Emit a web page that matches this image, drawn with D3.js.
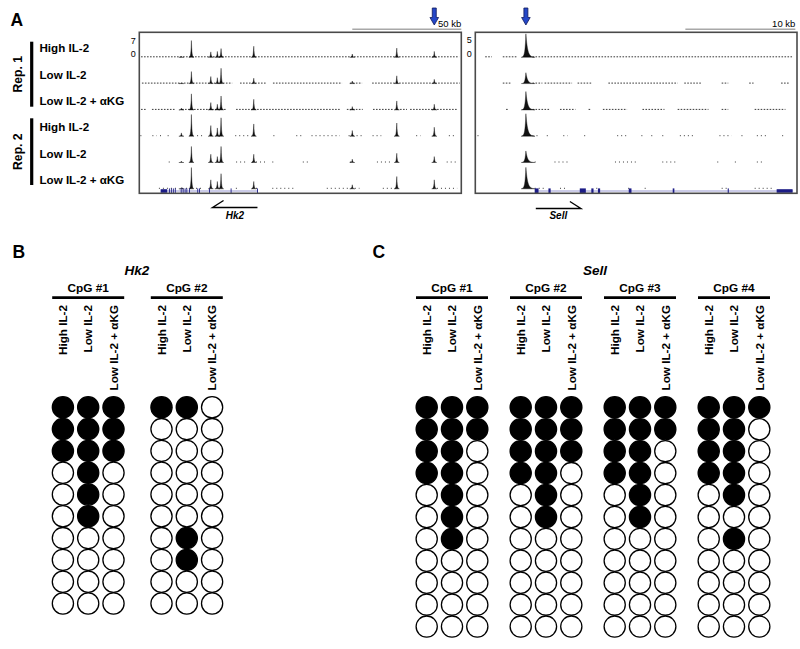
<!DOCTYPE html>
<html><head><meta charset="utf-8">
<script src="https://cdn.jsdelivr.net/npm/d3@7"></script>
<style>body{margin:0;background:#fff}svg{display:block}text{font-family:"Liberation Sans",Arial,sans-serif}</style>
</head><body><svg id="c" width="800" height="649"></svg>
<script>
// ---------------- DATA ----------------
const conditions = ["High IL-2", "Low IL-2", "Low IL-2 + αKG"];
const replicates = ["Rep. 1", "Rep. 2"];
const tracks = ["r1_high", "r1_low", "r1_akg", "r2_high", "r2_low", "r2_akg"];

// Hk2 locus (kb from left edge of window), peak positions and heights per track
const hk2Window = [0, 147.7];
const hk2Max = 7;
const hk2PeakPos = [19.3, 23.9, 32.8, 35.8, 37.5, 52.5, 97.7, 118.1, 135.3];
const hk2Peaks = [
  [0.4, 7.1, 2.3, 2.5, 3.7, 4.7, 1.4, 3.9, 2.5],
  [0.3, 5.1, 3.0, 2.5, 6.5, 2.3, 1.1, 3.3, 1.8],
  [0.8, 6.8, 3.1, 2.4, 5.9, 4.5, 1.4, 3.8, 2.4],
  [1.4, 9.2, 4.5, 3.5, 7.8, 5.2, 2.4, 5.6, 3.8],
  [0.6, 6.8, 3.5, 2.5, 6.8, 3.5, 1.4, 3.9, 2.5],
  [0.5, 9.0, 3.8, 3.1, 6.4, 3.1, 1.7, 5.2, 3.8]
];
const hk2Background = [
  [[0.8, 146.7]],
  [[1.2, 42.6], [46.2, 58.1], [61.3, 93], [96.6, 102.2], [106.8, 147]],
  [[0.8, 3.1], [5.8, 16.8], [19.6, 39.8], [44.4, 92], [95.2, 102.5], [107.2, 116.4], [119.6, 122.8], [124.2, 145.8]],
  [[0.5, 1.5], [6, 8], [9.5, 10.5], [13, 14], [26.5, 29], [44, 51], [61.5, 62.5], [72, 75.5], [79, 92], [96, 102], [107, 111], [127, 129], [135, 136], [142, 145.5]],
  [[13.5, 14.2], [44.4, 49], [51.7, 58.1], [61, 61.5], [75, 78.3], [96.6, 98], [109, 115], [141, 146]],
  [[9, 16.8], [19.6, 23.7], [26, 28.8], [44.3, 44.9], [51.7, 54.9], [61, 72], [86, 101], [111.7, 118], [134.7, 145.8]]
];
const hk2GeneSpan = [9.8, 54.3];
const hk2UTR = [[9.8, 12.8]];
const hk2Exons = [[13.6, 13.9], [14.5, 14.8], [15.4, 15.7], [16.3, 16.6], [19.0, 19.3], [19.9, 20.2], [20.8, 21.1], [21.6, 21.9], [22.8, 23.1], [26.6, 26.9], [27.4, 27.7], [32, 32.3], [41.9, 42.2], [54.0, 54.3]];
const hk2Arrow = [54.2, 33.6];     // transcription direction: right-to-left
const hk2Target = 135.3;           // blue arrow
const hk2ScaleBar = [97.7, 147.7]; // 50 kb

// Sell locus
const sellWindow = [0, 29.25];
const sellMax = 5;
const sellPeakPos = [4.6];
const sellPeaks = [[6.9], [3.2], [5.4], [6.6], [3.4], [6.3]];
const sellBackground = [
  [[0.9, 1.5], [2.5, 3.8], [5.2, 28.8]],
  [[2.5, 3.2], [5.2, 6.1], [6.3, 8.8], [9.3, 10.6], [12.1, 18.4], [19, 20.6], [22.4, 23], [24.9, 25.3], [27.8, 28.5]],
  [[2.8, 2.95], [5.2, 6.8], [7.7, 9.1], [10.3, 10.45], [11.6, 13.8], [15.2, 17.2], [18.4, 21.2], [22.4, 23], [25.4, 28.2]],
  [[0.2, 0.35], [5.2, 5.7], [6.5, 6.7], [8, 8.4], [9.9, 10.1], [12.9, 13.8], [15.1, 15.3], [16, 16.3], [17, 17.3], [18.6, 20], [22.2, 23.3], [24.2, 24.4], [25.6, 26.6], [27.9, 28.1]],
  [[5.4, 5.6], [7.2, 8.6], [12.7, 14.3], [14.5, 14.6], [17, 18.4], [22, 22.2], [23.6, 23.8], [25.6, 26.1]],
  [[5.4, 6.3], [7.7, 8.2], [11, 11.3], [13.9, 14.1], [15.4, 15.6], [22.4, 23], [25.4, 27.2]]
];
const sellGeneSpan = [5.45, 28.9];
const sellUTR = [[27.4, 28.85]];
const sellExons = [[5.4, 5.75], [6.65, 6.85], [9.5, 10.05], [10.55, 10.75], [11.15, 11.35], [13.95, 14.2], [17.95, 18.1], [22.95, 23.05]];
const sellArrow = [5.5, 9.6];      // left-to-right
const sellTarget = 4.6;
const sellScaleBar = [19.1, 29.1]; // 10 kb

// Bisulfite methylation (1 = methylated clone)
const hk2CpGs = ["CpG #1", "CpG #2"];
const hk2Meth = [
  [[1,1,1,0,0,0,0,0,0,0], [1,1,1,1,1,1,0,0,0,0], [1,1,1,0,0,0,0,0,0,0]],
  [[1,0,0,0,0,0,0,0,0,0], [1,0,0,0,0,0,1,1,0,0], [0,0,0,0,0,0,0,0,0,0]]
];
const sellCpGs = ["CpG #1", "CpG #2", "CpG #3", "CpG #4"];
const sellMeth = [
  [[1,1,1,1,0,0,0,0,0,0,0], [1,1,1,1,1,1,1,0,0,0,0], [1,1,0,0,0,0,0,0,0,0,0]],
  [[1,1,1,1,0,0,0,0,0,0,0], [1,1,1,1,1,1,0,0,0,0,0], [1,1,1,0,0,0,0,0,0,0,0]],
  [[1,1,1,1,0,0,0,0,0,0,0], [1,1,1,1,1,1,0,0,0,0,0], [1,1,0,0,0,0,0,0,0,0,0]],
  [[1,1,1,1,0,0,0,0,0,0,0], [1,1,1,1,1,0,1,0,0,0,0], [1,0,0,0,0,0,0,0,0,0,0]]
];

// ---------------- DRAW ----------------
const svg = d3.select("#c");

function panelLetter(t, x, y) {
  svg.append("text").attr("x", x).attr("y", y).text(t)
    .attr("font-size", 17.5).attr("font-weight", "bold");
}
panelLetter("A", 10.5, 25.5);
panelLetter("B", 12.5, 257.5);
panelLetter("C", 372.5, 257.5);

// track baselines
const yTrack = d3.scalePoint().domain(tracks).range([57.3, 188.8]);

// row labels
svg.selectAll("text.rowlab").data(tracks).join("text").attr("class", "rowlab")
  .attr("x", 39.5).attr("y", d => yTrack(d) - 9).attr("dy", "0.35em")
  .attr("font-size", 11.6).attr("font-weight", "bold")
  .text((d, i) => conditions[i % 3]);

// replicate bars
replicates.forEach((r, i) => {
  const y0 = i === 0 ? 41.7 : 118.3, y1 = i === 0 ? 106.7 : 185;
  svg.append("line").attr("x1", 31.7).attr("x2", 31.7).attr("y1", y0).attr("y2", y1)
    .attr("stroke", "#000").attr("stroke-width", 3.2);
  svg.append("text").attr("transform", `translate(22,${(y0 + y1) / 2}) rotate(-90)`)
    .attr("text-anchor", "middle").attr("font-size", 12.2).attr("font-weight", "bold").text(r);
});

function browser(cfg) {
  const x = d3.scaleLinear().domain(cfg.window).range([cfg.x0, cfg.x1]);
  const h = d3.scaleLinear().domain([0, cfg.max]).range([0, cfg.pxMax]);
  const g = svg.append("g");

  // background dotted signal
  cfg.bg.forEach((segs, ti) => {
    const yb = yTrack(tracks[ti]) - 0.5;
    g.selectAll(null).data(segs).join("line")
      .attr("x1", d => x(d[0])).attr("x2", d => x(d[1]))
      .attr("y1", yb).attr("y2", yb)
      .attr("stroke", "#3a3a3a").attr("stroke-width", 1)
      .attr("stroke-dasharray", ti < 3 ? "1.6,1.4" : "1,3");
  });

  // peaks
  const area = d3.area().x(d => d.x).y0(d => d.b).y1(d => d.b - d.v);
  cfg.peaks.forEach((vals, ti) => {
    const b = yTrack(tracks[ti]);
    vals.forEach((v, pi) => {
      const cx = x(cfg.pos[pi]);
      const pts = d3.range(-cfg.wl, cfg.wr + 0.01, 0.25).map(dx => ({
        x: cx + dx, b: b,
        v: h(v) * Math.exp(-Math.abs(dx) / (dx < 0 ? cfg.kl : cfg.kr))
      }));
      g.append("path").attr("d", area(pts)).attr("fill", "#111")
        .attr("stroke", "#111").attr("stroke-width", 0.4);
    });
  });

  // gene model
  const gy = 191;
  g.append("line").attr("x1", x(cfg.span[0])).attr("x2", x(cfg.span[1]))
    .attr("y1", gy).attr("y2", gy).attr("stroke", "#9a9ad2").attr("stroke-width", 1.1);
  g.selectAll(null).data(cfg.utr).join("rect")
    .attr("x", d => x(d[0])).attr("width", d => Math.max(0.8, x(d[1]) - x(d[0])))
    .attr("y", gy - 1.8).attr("height", 3.6).attr("fill", "#1c1c86");
  g.selectAll(null).data(cfg.exons).join("rect")
    .attr("x", d => x(d[0])).attr("width", d => Math.max(0.9, x(d[1]) - x(d[0])))
    .attr("y", gy - 2.6).attr("height", 5.2).attr("fill", "#1c1c86");

  // box
  g.append("rect").attr("x", cfg.x0).attr("y", 32.3).attr("width", cfg.x1 - cfg.x0).attr("height", 161)
    .attr("fill", "none").attr("stroke", "#4a4a4a").attr("stroke-width", 1.6);

  // y labels
  const y0 = yTrack(tracks[0]);
  g.append("text").attr("x", cfg.x0 - 3.5).attr("y", y0 - h(cfg.max)).attr("dy", "0.35em")
    .attr("text-anchor", "end").attr("font-size", 9).text(cfg.max);
  g.append("text").attr("x", cfg.x0 - 3.5).attr("y", y0 - 3).attr("dy", "0.35em")
    .attr("text-anchor", "end").attr("font-size", 9).text(0);

  // scale bar
  g.append("line").attr("x1", x(cfg.bar[0])).attr("x2", x(cfg.bar[1])).attr("y1", 29.3).attr("y2", 29.3)
    .attr("stroke", "#a8a8a8").attr("stroke-width", 1.6);
  g.append("text").attr("x", x(cfg.bar[1])).attr("y", 26.5).attr("text-anchor", "end")
    .attr("font-size", 9.5).text(cfg.barLabel);

  // blue arrow
  const ax = x(cfg.target);
  const arrow = `M${ax - 2},8 L${ax + 2},8 L${ax + 2},17.5 L${ax + 4.3},17.5 L${ax},25 L${ax - 4.3},17.5 L${ax - 2},17.5 Z`;
  g.append("path").attr("d", arrow).attr("fill", "#2447c8").attr("stroke", "#101a5a").attr("stroke-width", 0.8);

  // gene direction arrow + name
  const a0 = x(cfg.arrow[0]), a1 = x(cfg.arrow[1]);
  const dir = Math.sign(a1 - a0);
  g.append("path").attr("d", `M${a0},${cfg.ay} L${a1},${cfg.ay} L${a1 - dir * 11},${cfg.ay - 7}`)
    .attr("fill", "none").attr("stroke", "#000").attr("stroke-width", 1.4);
  g.append("text").attr("x", (a0 + a1) / 2).attr("y", 218.5).attr("text-anchor", "middle")
    .attr("font-size", 10).attr("font-weight", "bold").attr("font-style", "italic").text(cfg.name);
}

browser({ window: hk2Window, x0: 139.3, x1: 461.3, max: hk2Max, pxMax: 16.5,
  pos: hk2PeakPos, peaks: hk2Peaks, bg: hk2Background, kl: 0.5, kr: 0.5, wl: 2.5, wr: 2.5,
  span: hk2GeneSpan, utr: hk2UTR, exons: hk2Exons, arrow: hk2Arrow, ay: 207.5,
  target: hk2Target, bar: hk2ScaleBar, barLabel: "50 kb", name: "Hk2" });
browser({ window: sellWindow, x0: 475.3, x1: 797, max: sellMax, pxMax: 17,
  pos: sellPeakPos, peaks: sellPeaks, bg: sellBackground, kl: 0.9, kr: 1.7, wl: 4.5, wr: 9,
  span: sellGeneSpan, utr: sellUTR, exons: sellExons, arrow: sellArrow, ay: 208.5,
  target: sellTarget, bar: sellScaleBar, barLabel: "10 kb", name: "Sell" });

// ---------------- Methylation panels ----------------
function methPanel(cfg) {
  const g = svg.append("g");
  const gx = d3.scalePoint().domain(cfg.cpgs).range(cfg.groupRange);   // centre column of each group
  const cx = d3.scalePoint().domain(conditions).range([-25.3, 25.3]);
  const nRows = cfg.data[0][0].length;
  const ry = d3.scaleLinear().domain([0, nRows - 1]).range([407.3, cfg.lastRowY]);

  g.append("text").attr("x", cfg.titleX).attr("y", 275).attr("text-anchor", "middle")
    .attr("font-size", 13.5).attr("font-weight", "bold").attr("font-style", "italic").text(cfg.title);

  cfg.cpgs.forEach((cp, gi) => {
    const c = gx(cp);
    g.append("text").attr("x", c).attr("y", 291.8).attr("text-anchor", "middle")
      .attr("font-size", 11.8).attr("font-weight", "bold").text(cp);
    g.append("line").attr("x1", c - 36).attr("x2", c + 36).attr("y1", 297.7).attr("y2", 297.7)
      .attr("stroke", "#000").attr("stroke-width", 2.8);
    conditions.forEach((cond, ci) => {
      const x = c + cx(cond);
      g.append("text").attr("transform", `translate(${x},305) rotate(-90)`)
        .attr("text-anchor", "end").attr("dy", "0.36em")
        .attr("font-size", 11.7).attr("font-weight", "bold").text(cond);
      g.selectAll(null).data(cfg.data[gi][ci]).join("circle")
        .attr("cx", x).attr("cy", (d, i) => ry(i)).attr("r", 10.6)
        .attr("fill", d => d ? "#000" : "#fff").attr("stroke", "#000").attr("stroke-width", 1.3);
    });
  });
}
methPanel({ cpgs: hk2CpGs, data: hk2Meth, groupRange: [88.2, 186.8], lastRowY: 603.5, title: "Hk2", titleX: 137 });
methPanel({ cpgs: sellCpGs, data: sellMeth, groupRange: [452, 734], lastRowY: 626.6, title: "Sell", titleX: 595 });
</script></body></html>
